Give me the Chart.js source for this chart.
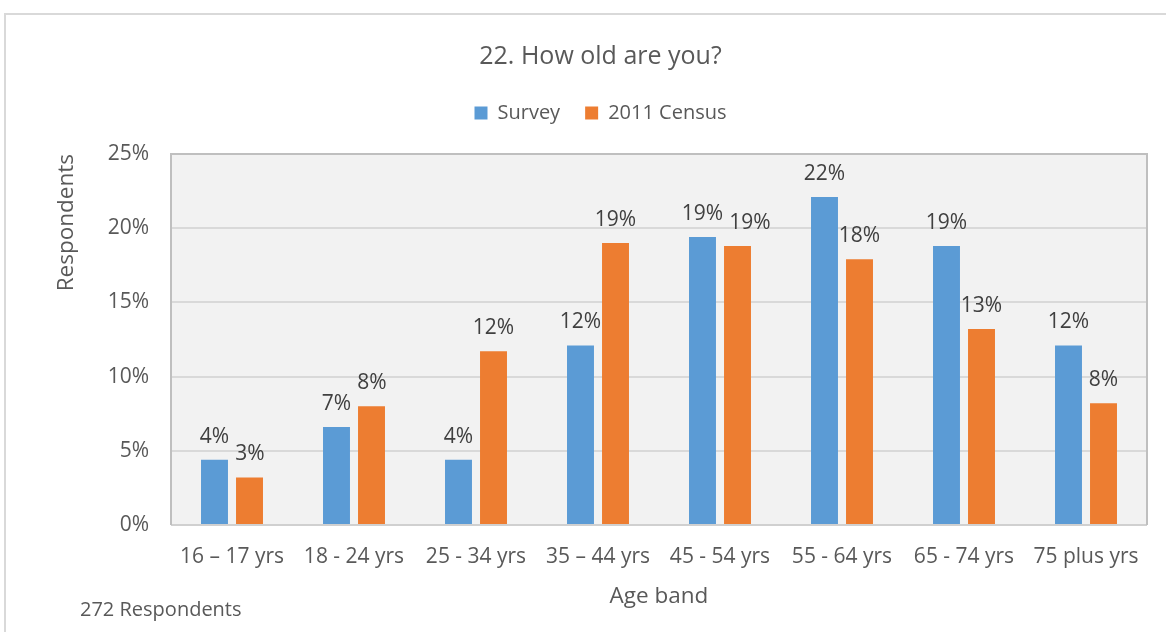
<!DOCTYPE html>
<html>
<head>
<meta charset="utf-8">
<title>22. How old are you?</title>
<script src="https://cdn.jsdelivr.net/npm/chart.js@4.4.1/dist/chart.umd.min.js"></script>
<style>
    html, body { margin: 0; padding: 0; background: #fff; }
    .wrap { position: relative; width: 1166px; height: 632px; overflow: hidden; }
    .frame { position: absolute; left: 4px; top: 13px; width: 1200px; height: 700px; border: 2px solid #D9D9D9; }
    #ageChart { position: absolute; left: 0; top: 0; }
    .note { position: absolute; left: 80px; top: 595px; font: 20px "Open Sans"; color: #595959; }
</style>
</head>
<body>
<div class="wrap">
    <div class="frame"></div>
    <canvas id="ageChart" width="1166" height="632"></canvas>
    <div class="note" id="note"></div>
</div>
<script>
const categories = ['16 – 17 yrs', '18 - 24 yrs', '25 - 34 yrs', '35 – 44 yrs', '45 - 54 yrs', '55 - 64 yrs', '65 - 74 yrs', '75 plus yrs'];
const surveyPct = [4.4, 6.6, 4.4, 12.1, 19.4, 22.1, 18.8, 12.1];
const censusPct = [3.2, 8.0, 11.7, 19.0, 18.8, 17.9, 13.2, 8.2];
const yTicks = [0, 5, 10, 15, 20, 25];
const seriesNames = ['Survey', '2011 Census'];
const respondentsNote = '272 Respondents';

const FONT = '"Open Sans", "Noto Sans", sans-serif';
const TEXT = '#595959';
const LABEL_SIZE = 21;

document.getElementById('note').textContent = respondentsNote;

// grey plot area with a frame, like the spreadsheet chart
const plotArea = {
    id: 'plotArea',
    beforeDraw(chart) {
        const { ctx, chartArea: a } = chart;
        ctx.save();
        ctx.fillStyle = '#F2F2F2';
        ctx.fillRect(a.left, a.top, a.width, a.height);
        ctx.restore();
    },
    beforeDatasetsDraw(chart) {
        const { ctx, chartArea: a } = chart;
        ctx.save();
        ctx.lineWidth = 2;
        ctx.strokeStyle = '#D0D0D0';
        ctx.beginPath();
        ctx.moveTo(a.left, a.bottom);
        ctx.lineTo(a.right, a.bottom);
        ctx.stroke();
        ctx.strokeStyle = '#BFBFBF';
        ctx.beginPath();
        ctx.moveTo(a.left, a.bottom);
        ctx.lineTo(a.left, a.top);
        ctx.lineTo(a.right, a.top);
        ctx.lineTo(a.right, a.bottom);
        ctx.stroke();
        ctx.restore();
    }
};

// percentage labels above each bar, pushed right when two labels collide
const barLabels = {
    id: 'barLabels',
    afterDatasetsDraw(chart) {
        const ctx = chart.ctx;
        ctx.save();
        ctx.font = LABEL_SIZE + 'px ' + FONT;
        ctx.fillStyle = '#404040';
        ctx.textAlign = 'center';
        ctx.textBaseline = 'middle';
        const metas = chart.data.datasets.map((ds, i) => chart.getDatasetMeta(i));
        categories.forEach((cat, j) => {
            let prev = null;
            chart.data.datasets.forEach((ds, i) => {
                const bar = metas[i].data[j];
                const text = Math.round(ds.data[j]) + '%';
                const w = ctx.measureText(text).width;
                let x = bar.x;
                const y = bar.y - 23;
                if (prev && Math.abs(prev.y - y) < LABEL_SIZE && x - w / 2 < prev.right + 6) {
                    x = prev.right + 6 + w / 2;
                }
                ctx.fillText(text, x, y);
                prev = { y, right: x + w / 2 };
            });
        });
        ctx.restore();
    }
};

// extra room between legend and plot
const legendGap = {
    id: 'legendGap',
    beforeInit(chart) {
        const fit = chart.legend.fit;
        chart.legend.fit = function () {
            fit.bind(chart.legend)();
            this.height += 21;
        };
    }
};

new Chart(document.getElementById('ageChart'), {
    type: 'bar',
    data: {
        labels: categories,
        datasets: [
            { label: seriesNames[0], data: surveyPct, backgroundColor: '#5B9BD5', borderWidth: 0 },
            { label: seriesNames[1], data: censusPct, backgroundColor: '#ED7D31', borderWidth: 0 }
        ]
    },
    options: {
        responsive: false,
        animation: false,
        categoryPercentage: 0.574,
        barPercentage: 0.77,
        layout: { padding: { left: 54, right: 19, top: 0, bottom: 0 } },
        plugins: {
            title: {
                display: true,
                text: '22. How old are you?',
                color: TEXT,
                font: { family: FONT, size: 25, weight: 'normal' },
                padding: { top: 42, bottom: 6 }
            },
            legend: {
                position: 'top',
                labels: {
                    boxWidth: 13,
                    boxHeight: 13,
                    color: TEXT,
                    font: { family: FONT, size: 20 },
                    padding: 25
                }
            },
            tooltip: { enabled: false }
        },
        scales: {
            x: {
                grid: { display: false, drawTicks: false },
                border: { display: false },
                ticks: {
                    color: TEXT,
                    font: { family: FONT, size: 21 },
                    padding: 19,
                    maxRotation: 0,
                    autoSkip: false
                },
                title: {
                    display: true,
                    text: 'Age band',
                    color: TEXT,
                    font: { family: FONT, size: 22.5 },
                    padding: { top: 0, bottom: 22 }
                },
                afterFit(s) { s.height = 107; }
            },
            y: {
                min: yTicks[0],
                max: yTicks[yTicks.length - 1],
                afterBuildTicks(s) { s.ticks = yTicks.map(v => ({ value: v })); },
                grid: { color: '#D9D9D9', lineWidth: 2, drawTicks: false },
                border: { display: false },
                ticks: {
                    color: TEXT,
                    font: { family: FONT, size: 21 },
                    padding: 22,
                    callback: v => v + '%'
                },
                title: {
                    display: true,
                    text: 'Respondents',
                    align: 'end',
                    color: TEXT,
                    font: { family: FONT, size: 22.5 },
                    padding: { top: -1 }
                },
                afterFit(s) { s.width = 117; }
            }
        }
    },
    plugins: [plotArea, barLabels, legendGap]
});
</script>
</body>
</html>
